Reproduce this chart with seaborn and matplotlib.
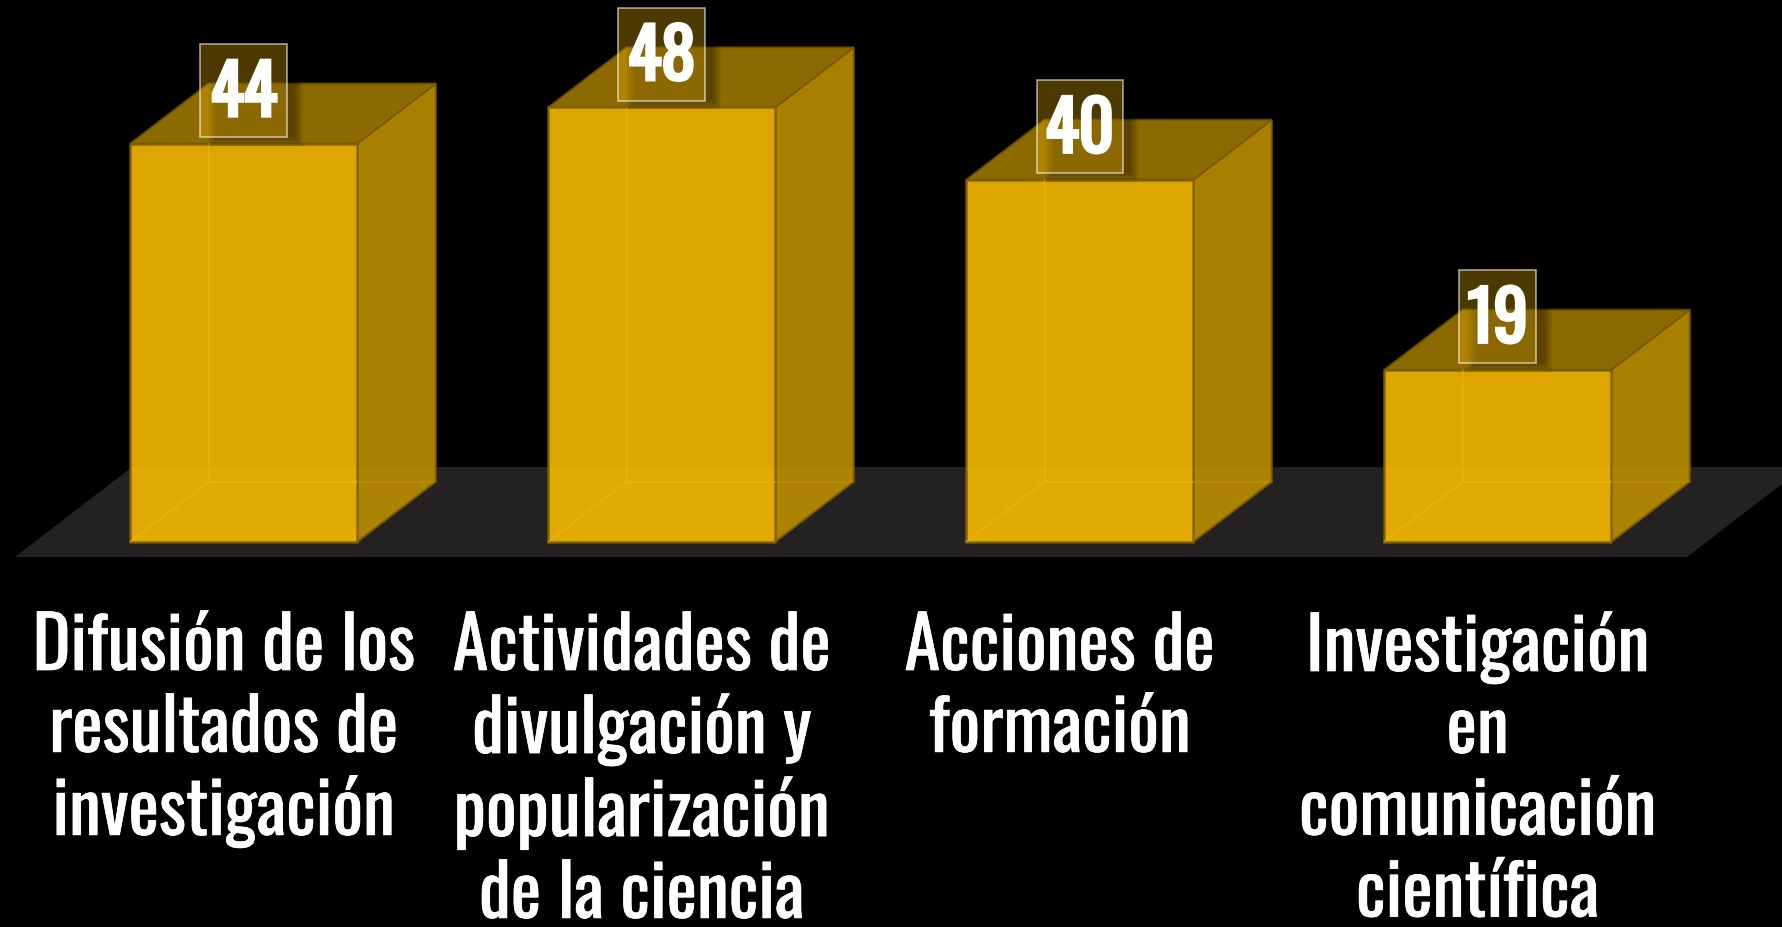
import matplotlib
matplotlib.use('Agg')
import matplotlib.pyplot as plt
import matplotlib.patheffects as pe
from matplotlib.patches import Polygon, Rectangle
import seaborn as sns

categories = ['Difusión de los\nresultados de\ninvestigación',
              'Actividades de\ndivulgación y\npopularización\nde la ciencia',
              'Acciones de\nformación',
              'Investigación\nen\ncomunicación\ncientífica']
values = [44, 48, 40, 19]
box_widths = [87, 87, 86, 77]

# pixel layout of the picture
W, H = 1782, 927
X0, STEP = 243.7, 418.0    # first bar centre, spacing
Y0, UNIT = 541.7, 9.05     # baseline, pixels per unit


def xpx(v):
    return v / STEP


def ypx(v):
    return v / UNIT


sns.set_theme(style='dark', rc={'figure.facecolor': 'black', 'axes.facecolor': 'black'})
plt.rcParams['font.family'] = ['Oswald', 'Liberation Sans', 'DejaVu Sans']

fig = plt.figure(figsize=(W / 100, H / 100), dpi=100)
ax = fig.add_axes([0, 0, 1, 1])

sns.barplot(x=list(range(4)), y=values, color='#FFC000', saturation=1, width=227 / STEP,
            alpha=0.865, edgecolor='#7F6000', linewidth=1.8, ax=ax, zorder=2)
ax.set_xlim(-X0 / STEP, (W - X0) / STEP)
ax.set_ylim((Y0 - H) / UNIT, Y0 / UNIT)
ax.axis('off')

# floor
fx0, fx1 = xpx(15 - X0), xpx(1687 - X0)
fy0, fy1 = ypx(Y0 - 557), ypx(Y0 - 467)
fd = xpx(117)
ax.add_patch(Polygon([(fx0, fy0), (fx1, fy0), (fx1 + fd, fy1), (fx0 + fd, fy1)],
                     facecolor='#232122', edgecolor='none', zorder=0))

dx, dy = xpx(78.5), ypx(60)
for i, (bar, val) in enumerate(zip(ax.patches, values)):
    left, right = bar.get_x(), bar.get_x() + bar.get_width()
    top = bar.get_height()
    ax.add_patch(Polygon([(right, 0), (right + dx, dy), (right + dx, top + dy), (right, top)],
                         facecolor='#BF9000', alpha=0.89, edgecolor='#7F6000', lw=1.5, zorder=1))
    ax.add_patch(Polygon([(left, top), (right, top), (right + dx, top + dy), (left + dx, top + dy)],
                         facecolor='#BF9000', alpha=0.74, edgecolor='#6E5300', lw=1.5, zorder=1))
    # inner edges seen through the front
    ax.plot([left, left + dx, left + dx], [0, dy, top], color='#FFC000', alpha=0.4, lw=1.3, zorder=3)
    ax.plot([left + dx, right], [dy, dy], color='#FFC000', alpha=0.4, lw=1.3, zorder=3)
    ax.plot([right, right + dx], [dy, dy], color='#FFC000', alpha=0.12, lw=1.3, zorder=3)

    # value box
    cx = i
    bw = xpx(box_widths[i])
    by = top + ypx(6.5)
    bh = ypx(93)
    for k in range(7):
        ins = -4 + k * 1.5
        ax.add_patch(Rectangle((cx - bw / 2 + xpx(12 + ins), by - ypx(4.5 - ins)),
                               bw - xpx(2 * ins), bh - ypx(2 * ins),
                               facecolor='black', alpha=0.06, edgecolor='none', zorder=4))
    ax.add_patch(Rectangle((cx - bw / 2, by), bw, bh, facecolor='#FFC000', alpha=0.3,
                           edgecolor='none', zorder=5))
    ax.add_patch(Rectangle((cx - bw / 2, by), bw, bh, facecolor='none', edgecolor='white',
                           alpha=0.6, lw=1.2, zorder=5))
    ax.text(cx, by + bh / 2 + ypx(2), str(val), color='white', fontsize=49.5,
            ha='center', va='center_baseline', zorder=6,
            path_effects=[pe.withStroke(linewidth=2.4, foreground='white', joinstyle='miter')])

    # category label
    ax.text(cx + xpx(-20), ypx(Y0 - 612), categories[i], color='white', fontsize=52,
            ha='center', va='top', linespacing=1.17, zorder=6,
            path_effects=[pe.withStroke(linewidth=0.5, foreground='white')])

fig.savefig('out.png', dpi=100, facecolor='black')
plt.close()
